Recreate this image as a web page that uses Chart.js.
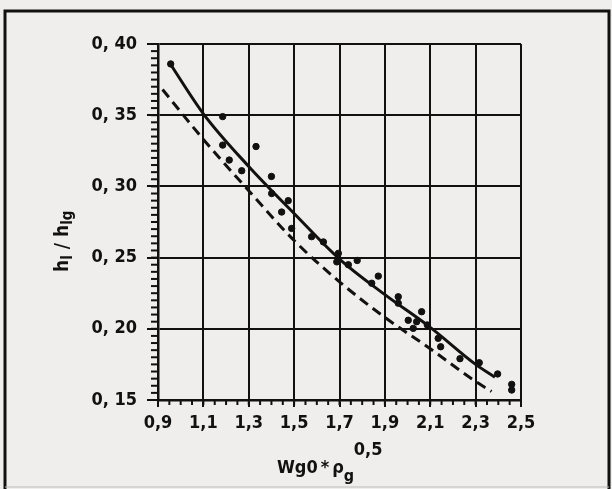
<!DOCTYPE html>
<html>
<head>
<meta charset="utf-8">
<script src="https://cdn.jsdelivr.net/npm/chart.js@4.4.0/dist/chart.umd.min.js"></script>
<style>
  html, body { margin: 0; padding: 0; background: #efeeec; }
  canvas { display: block; }
</style>
</head>
<body>
<canvas id="chart" width="612" height="489"></canvas>
<script>
var ptX = [0.956, 1.185, 1.185, 1.214, 1.269, 1.332, 1.400, 1.401, 1.445, 1.474, 1.489,
           1.577, 1.629, 1.695, 1.688, 1.739, 1.778, 1.842, 1.871, 1.959, 1.959, 2.003,
           2.025, 2.040, 2.062, 2.087, 2.135, 2.146, 2.231, 2.316, 2.397, 2.459, 2.459];
var ptY = [0.386, 0.349, 0.329, 0.3185, 0.311, 0.328, 0.307, 0.295, 0.282, 0.290, 0.2705,
           0.2647, 0.261, 0.253, 0.247, 0.245, 0.248, 0.232, 0.237, 0.2225, 0.218, 0.206,
           0.2003, 0.205, 0.212, 0.2027, 0.1933, 0.1874, 0.179, 0.1762, 0.1683, 0.161, 0.157];

// solid curve
var fitX = [0.95, 1.1, 1.3, 1.5, 1.7, 1.9, 2.1, 2.3, 2.385];
var fitY = [0.387, 0.351, 0.314, 0.281, 0.249, 0.224, 0.201, 0.175, 0.166];

// dashed curve
var lowX = [0.92, 1.1, 1.3, 1.5, 1.7, 1.9, 2.1, 2.3, 2.37];
var lowY = [0.368, 0.333, 0.297, 0.262, 0.233, 0.208, 0.186, 0.163, 0.156];

// tick labels
var xTicks = [0.9, 1.1, 1.3, 1.5, 1.7, 1.9, 2.1, 2.3, 2.5];
var yTicks = [0.15, 0.20, 0.25, 0.30, 0.35, 0.40];

var FONT = "'DejaVu Sans Condensed', 'Liberation Sans Narrow', 'DejaVu Sans', sans-serif";
var INK = '#111';

function pairs(xs, ys) {
  var out = [];
  for (var i = 0; i < xs.length; i++) out.push({x: xs[i], y: ys[i]});
  return out;
}

var paperPlugin = {
  id: 'paper',
  beforeDraw: function(chart) {
    var c = chart.ctx;
    c.save();
    c.fillStyle = '#efeeec';
    c.fillRect(0, 0, chart.width, chart.height);
    c.restore();
  },
  afterDraw: function(chart) {
    var c = chart.ctx;
    var xs = chart.scales.x, ys = chart.scales.y;
    c.save();
    c.strokeStyle = INK;
    c.lineWidth = 2;
    // minor ticks on y (every 0.005)
    for (var i = 0; i <= 50; i++) {
      var py = ys.getPixelForValue(0.15 + i * 0.005);
      c.beginPath();
      c.moveTo(xs.left - 7, py);
      c.lineTo(xs.left, py);
      c.stroke();
    }
    // minor ticks on x (every 0.05)
    for (var j = 0; j <= 32; j++) {
      var px = xs.getPixelForValue(0.9 + j * 0.05);
      c.beginPath();
      c.moveTo(px, ys.bottom);
      c.lineTo(px, ys.bottom + 5);
      c.stroke();
    }

    // outer frame
    c.lineWidth = 3;
    c.beginPath();
    c.moveTo(5, 489);
    c.lineTo(5, 11);
    c.lineTo(609, 11);
    c.lineTo(609, 489);
    c.stroke();
    c.lineWidth = 1;
    c.strokeStyle = '#bbb';
    c.beginPath();
    c.moveTo(5, 487);
    c.lineTo(609, 487);
    c.stroke();

    // x title: Wg0 * rho_g ^0,5
    c.fillStyle = INK;
    c.textBaseline = 'alphabetic';
    c.textAlign = 'left';
    var big = 'bold 18px ' + FONT, small = 'bold 16px ' + FONT;
    var x = 277, base = 473;
    c.font = big;
    c.fillText('Wg0', x, base); x += c.measureText('Wg0').width + 3;
    c.fillText('*', x, base); x += c.measureText('*').width + 3;
    c.fillText('\u03C1', x, base); x += c.measureText('\u03C1').width;
    c.font = small;
    c.fillText('g', x, base + 8);
    c.font = big;
    c.fillText('0,5', x + 10, base - 18);

    // y title: h_l / h_lg (rotated)
    c.translate(68, 272);
    c.rotate(-Math.PI / 2);
    var t = 0;
    c.font = 'bold 19px ' + FONT;
    c.fillText('h', t, 0); t += c.measureText('h').width;
    c.font = 'bold 15px ' + FONT;
    c.fillText('l', t, 4); t += c.measureText('l').width + 6;
    c.font = 'bold 19px ' + FONT;
    c.fillText('/', t, 0); t += c.measureText('/').width + 6;
    c.fillText('h', t, 0); t += c.measureText('h').width;
    c.font = 'bold 15px ' + FONT;
    c.fillText('lg', t, 4);
    c.restore();
  }
};

var ctx = document.getElementById('chart');

var chart = new Chart(ctx, {
  type: 'scatter',
  data: {
    datasets: [
      {
        label: 'points',
        data: pairs(ptX, ptY),
        backgroundColor: INK,
        borderColor: INK,
        pointRadius: 3.2,
        pointHoverRadius: 3.2,
        order: 0
      },
      {
        label: 'fit',
        data: pairs(fitX, fitY),
        showLine: true,
        borderColor: INK,
        borderWidth: 3,
        pointRadius: 0,
        cubicInterpolationMode: 'monotone',
        order: 1
      },
      {
        label: 'lower',
        data: pairs(lowX, lowY),
        showLine: true,
        borderColor: INK,
        borderWidth: 3,
        borderDash: [10, 6],
        pointRadius: 0,
        cubicInterpolationMode: 'monotone',
        order: 2
      }
    ]
  },
  options: {
    responsive: false,
    animation: false,
    devicePixelRatio: 1,
    layout: { padding: { left: 0, top: 44, right: 91, bottom: 0 } },
    plugins: {
      legend: { display: false },
      tooltip: { enabled: false }
    },
    scales: {
      x: {
        type: 'linear',
        min: 0.9,
        max: 2.5,
        afterBuildTicks: function(s) { s.ticks = xTicks.map(function(v) { return {value: v}; }); },
        afterFit: function(s) { s.height = 89; },
        grid: { color: INK, lineWidth: 2, tickLength: 7, tickColor: INK, tickWidth: 2 },
        border: { display: true, color: INK, width: 2.5 },
        ticks: {
          autoSkip: false,
          maxRotation: 0,
          padding: 6,
          color: INK,
          font: { family: FONT, size: 18, weight: 'bold' },
          callback: function(v) { return v.toFixed(1).replace('.', ','); }
        }
      },
      y: {
        type: 'linear',
        min: 0.15,
        max: 0.40,
        afterBuildTicks: function(s) { s.ticks = yTicks.map(function(v) { return {value: v}; }); },
        afterFit: function(s) { s.width = 158; },
        grid: { color: INK, lineWidth: 2, tickLength: 11, tickColor: INK, tickWidth: 2 },
        border: { display: true, color: INK, width: 2.5 },
        ticks: {
          autoSkip: false,
          padding: 10,
          color: INK,
          font: { family: FONT, size: 18, weight: 'bold' },
          callback: function(v) { return v.toFixed(2).replace('.', ', '); }
        }
      }
    }
  },
  plugins: [paperPlugin]
});
</script>
</body>
</html>
